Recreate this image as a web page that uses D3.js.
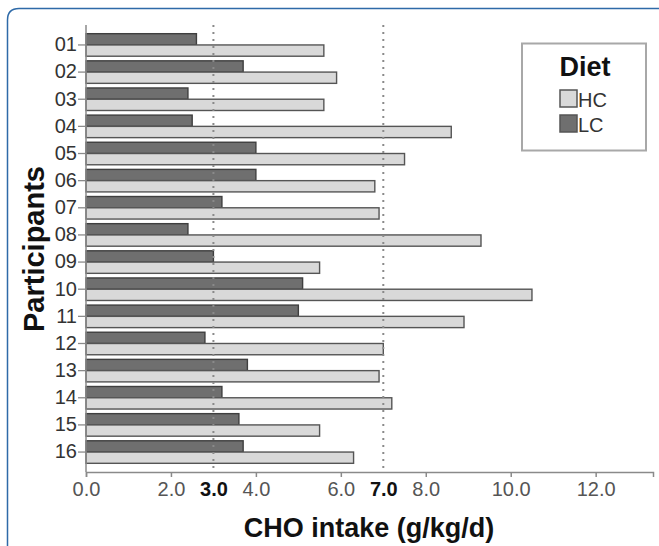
<!DOCTYPE html>
<html>
<head>
<meta charset="utf-8">
<script src="https://cdn.jsdelivr.net/npm/d3@7"></script>
<style>
  body { margin: 0; background: #fff; }
  svg { display: block; font-family: "Liberation Sans", Arial, sans-serif; }
</style>
</head>
<body>
<div id="chart"></div>
<script>
const participants = ['01','02','03','04','05','06','07','08','09','10','11','12','13','14','15','16'];
const hc = [5.6, 5.9, 5.6, 8.6, 7.5, 6.8, 6.9, 9.3, 5.5, 10.5, 8.9, 7.0, 6.9, 7.2, 5.5, 6.3];
const lc = [2.6, 3.7, 2.4, 2.5, 4.0, 4.0, 3.2, 2.4, 3.0, 5.1, 5.0, 2.8, 3.8, 3.2, 3.6, 3.7];
const xTicks = [0, 2, 3, 4, 6, 7, 8, 10, 12];
const refLines = [3, 7];
const diets = ['HC', 'LC'];

const width = 659;
const height = 546;
const margin = { top: 25, right: 6, bottom: 74, left: 86 };

const fill = { HC: '#d9d9d9', LC: '#6f6f6f' };

const svg = d3.select('#chart')
  .append('svg')
  .attr('width', width)
  .attr('height', height);

// blue article frame
svg.append('path')
  .attr('d', 'M7.5,560 L7.5,20 Q7.5,8.5 19,8.5 L670,8.5')
  .attr('fill', 'none')
  .attr('stroke', '#2e6aa8')
  .attr('stroke-width', 1.5);

const x = d3.scaleLinear()
  .domain([0, 13.35])
  .range([margin.left, width - margin.right]);

const y = d3.scaleBand()
  .domain(participants)
  .range([margin.top, height - margin.bottom])
  .paddingInner(0.17)
  .paddingOuter(0.32);

const sub = d3.scaleBand()
  .domain(['LC', 'HC'])
  .range([0, y.bandwidth()]);

const rows = participants.map((p, i) => ({ p, HC: hc[i], LC: lc[i] }));

const groups = svg.append('g')
  .selectAll('g')
  .data(rows)
  .join('g')
    .attr('transform', d => `translate(0,${y(d.p)})`);

groups.selectAll('rect')
  .data(d => ['LC', 'HC'].map(k => ({ k, v: d[k] })))
  .join('rect')
    .attr('x', x(0))
    .attr('y', d => sub(d.k))
    .attr('width', d => x(d.v) - x(0))
    .attr('height', sub.bandwidth())
    .attr('fill', d => fill[d.k])
    .attr('stroke', d => d.k === 'LC' ? '#3f3f3f' : '#555')
    .attr('stroke-width', 1.4);

// dotted guide lines
svg.append('g')
  .selectAll('line')
  .data(refLines)
  .join('line')
    .attr('x1', d => x(d))
    .attr('x2', d => x(d))
    .attr('y1', margin.top)
    .attr('y2', height - margin.bottom)
    .attr('stroke', '#8a8a8a')
    .attr('stroke-width', 2)
    .attr('stroke-dasharray', '2,5');

// x axis
const xAxis = svg.append('g')
  .attr('transform', `translate(0,${height - margin.bottom})`)
  .call(d3.axisBottom(x).tickValues(xTicks).tickFormat(d3.format('.1f')).tickSize(5).tickPadding(5));
xAxis.select('.domain').attr('stroke', '#8a8a8a').attr('stroke-width', 1.5);
xAxis.selectAll('.tick line')
  .attr('stroke', '#8a8a8a')
  .attr('stroke-width', 1.5)
  .attr('opacity', d => refLines.includes(d) ? 0 : 1);
xAxis.selectAll('.tick text')
  .attr('font-size', 20)
  .attr('fill', d => refLines.includes(d) ? '#111' : '#555')
  .attr('font-weight', d => refLines.includes(d) ? 'bold' : 'normal')
  .attr('font-family', '"Liberation Sans", Arial, sans-serif');

// y axis
const yAxis = svg.append('g')
  .attr('transform', `translate(${margin.left},0)`)
  .call(d3.axisLeft(y).tickSize(8).tickPadding(1));
yAxis.select('.domain')
  .attr('d', `M0,${margin.top}V${height - margin.bottom}`)
  .attr('stroke', '#8a8a8a')
  .attr('stroke-width', 1.5);
yAxis.selectAll('.tick line').attr('stroke', '#8a8a8a').attr('stroke-width', 1.3);
yAxis.selectAll('.tick text')
  .attr('font-size', 20)
  .attr('fill', '#333')
  .attr('font-family', '"Liberation Sans", Arial, sans-serif');

// axis titles
svg.append('text')
  .attr('x', 369)
  .attr('y', 537)
  .attr('text-anchor', 'middle')
  .attr('font-size', 27)
  .attr('font-weight', 'bold')
  .attr('fill', '#111')
  .text('CHO intake (g/kg/d)');

svg.append('text')
  .attr('transform', 'translate(44,249) rotate(-90)')
  .attr('text-anchor', 'middle')
  .attr('font-size', 29)
  .attr('font-weight', 'bold')
  .attr('fill', '#111')
  .text('Participants');

// legend
const legend = svg.append('g');
legend.append('rect')
  .attr('x', 522)
  .attr('y', 43.5)
  .attr('width', 124)
  .attr('height', 107)
  .attr('fill', '#fff')
  .attr('stroke', '#a8a8a8')
  .attr('stroke-width', 2);
legend.append('text')
  .attr('x', 585)
  .attr('y', 76)
  .attr('text-anchor', 'middle')
  .attr('font-size', 27)
  .attr('font-weight', 'bold')
  .attr('fill', '#111')
  .text('Diet');
const items = legend.selectAll('g.item')
  .data(diets)
  .join('g')
    .attr('class', 'item')
    .attr('transform', (d, i) => `translate(560,${90 + i * 25})`);
items.append('rect')
  .attr('width', 17)
  .attr('height', 17)
  .attr('fill', d => fill[d])
  .attr('stroke', '#555')
  .attr('stroke-width', 1.5);
items.append('text')
  .attr('x', 18)
  .attr('y', 17)
  .attr('font-size', 20)
  .attr('fill', '#333')
  .text(d => d);
</script>
</body>
</html>
